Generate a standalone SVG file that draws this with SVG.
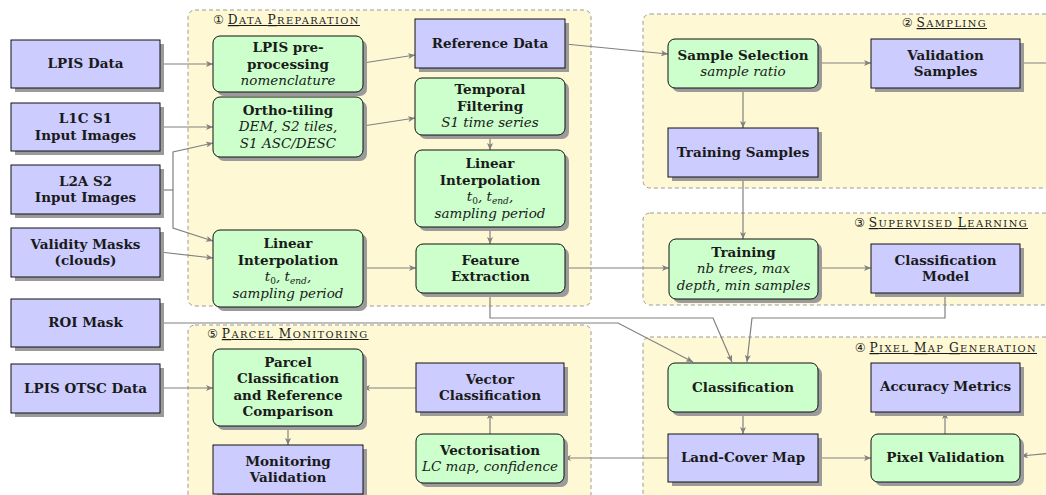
<svg xmlns="http://www.w3.org/2000/svg" width="1046" height="495" viewBox="0 0 1046 495">
<style>
.c{fill:#fef9d4;stroke:#9a9a9a;stroke-width:1;stroke-dasharray:4 3}
.b{fill:#ccccff;stroke:#111;stroke-width:1}
.g{fill:#ccffcc;stroke:#111;stroke-width:1}
.sh{fill:#9b9b9b}
.t{font-family:"DejaVu Serif","Liberation Serif",serif;font-size:13.5px;font-weight:bold;text-anchor:middle;fill:#1a1a1a}
.i{font-style:italic;font-weight:normal}
.s{font-size:9px;font-style:normal}
.se{font-size:9px}
.h{font-family:"DejaVu Serif","DejaVu Sans","Noto Sans CJK SC",serif;font-size:12.2px;fill:#1a1a1a}
.u{text-decoration:underline;letter-spacing:1.4px}
.k{font-size:9.9px}
.e{fill:none;stroke:#808080;stroke-width:1.2;marker-end:url(#a)}
.n{fill:none;stroke:#808080;stroke-width:1.2}
</style>
<defs>
<marker id="a" markerUnits="userSpaceOnUse" markerWidth="8" markerHeight="6" refX="7" refY="3" orient="auto">
<path d="M0,0 L7,3 L0,6 L1.8,3 z" fill="#808080"/>
</marker>
</defs>

<g id="containers">
<rect id="c1" class="c" x="188" y="10" width="403" height="296" rx="7"/>
<rect id="c2" class="c" x="643" y="14" width="410" height="174" rx="7"/>
<rect id="c3" class="c" x="643" y="213" width="410" height="92" rx="7"/>
<rect id="c4" class="c" x="643" y="337" width="410" height="170" rx="7"/>
<rect id="c5" class="c" x="188" y="325" width="403" height="180" rx="7"/>
<text class="h" x="213" y="24">① <tspan class="u">D<tspan class="k">ATA </tspan>P<tspan class="k">REPARATION</tspan></tspan></text>
<text class="h" x="987" y="27" text-anchor="end">② <tspan class="u">S<tspan class="k">AMPLING</tspan></tspan></text>
<text class="h" x="1028" y="227" text-anchor="end">③ <tspan class="u">S<tspan class="k">UPERVISED </tspan>L<tspan class="k">EARNING</tspan></tspan></text>
<text class="h" x="1037" y="352" text-anchor="end">④ <tspan class="u">P<tspan class="k">IXEL </tspan>M<tspan class="k">AP </tspan>G<tspan class="k">ENERATION</tspan></tspan></text>
<text class="h" x="207" y="338">⑤ <tspan class="u">P<tspan class="k">ARCEL </tspan>M<tspan class="k">ONITORING</tspan></tspan></text>
</g>

<g id="connectors">
<path class="e" d="M160,64 H213"/>
<path class="e" d="M160,127 H213"/>
<path class="n" d="M160,190 H173"/>
<path class="e" d="M173,190 V152 L213,143"/>
<path class="e" d="M173,190 V228 L213,241"/>
<path class="e" d="M160,252 L213,258"/>
<path class="e" d="M363,63 L415,55"/>
<path class="e" d="M363,126 L415,118"/>
<path class="e" d="M490,135 V150"/>
<path class="e" d="M490,227 V244"/>
<path class="e" d="M363,268 H416"/>
<path class="e" d="M565,44 L668,54"/>
<path class="e" d="M818,63 H871"/>
<path class="e" d="M743,88 V128"/>
<path class="e" d="M743,177 V239"/>
<path class="e" d="M565,268 H669"/>
<path class="e" d="M818,268 H871"/>
<path class="e" d="M945,293 V318 H752 L747,362"/>
<path class="e" d="M490,293 V318 H713 L732,362"/>
<path class="e" d="M160,323 H618 L693,362"/>
<path class="e" d="M743,412 V434"/>
<path class="e" d="M818,458 H871"/>
<path class="e" d="M945,434 V412"/>
<path class="e" d="M668,458 H564"/>
<path class="e" d="M490,434 V412"/>
<path class="e" d="M416,388 H363"/>
<path class="e" d="M160,388 H213"/>
<path class="e" d="M288,426 V445"/>
<path class="e" d="M1020,63 H1052 V453 L1021,456"/>
</g>

<g id="in_lpis"><rect class="sh" x="15" y="44" width="149" height="48"/><rect class="b" x="11" y="40" width="149" height="48"/><text class="t" x="85.5" y="68">LPIS Data</text></g>
<g id="in_l1c"><rect class="sh" x="15" y="107" width="149" height="48"/><rect class="b" x="11" y="103" width="149" height="48"/><text class="t" x="85.5" y="123">L1C S1</text><text class="t" x="85.5" y="139.5">Input Images</text></g>
<g id="in_l2a"><rect class="sh" x="15" y="169" width="149" height="49"/><rect class="b" x="11" y="165" width="149" height="49"/><text class="t" x="85.5" y="185.5">L2A S2</text><text class="t" x="85.5" y="202">Input Images</text></g>
<g id="in_mask"><rect class="sh" x="15" y="232" width="149" height="49"/><rect class="b" x="11" y="228" width="149" height="49"/><text class="t" x="85.5" y="248.5">Validity Masks</text><text class="t" x="85.5" y="265">(clouds)</text></g>
<g id="in_roi"><rect class="sh" x="15" y="303" width="149" height="48"/><rect class="b" x="11" y="299" width="149" height="48"/><text class="t" x="85.5" y="327">ROI Mask</text></g>
<g id="in_otsc"><rect class="sh" x="15" y="368" width="149" height="49"/><rect class="b" x="11" y="364" width="149" height="49"/><text class="t" x="85.5" y="392.5">LPIS OTSC Data</text></g>

<g id="lpis_pre"><rect class="sh" x="217" y="40" width="150" height="56" rx="7"/><rect class="g" x="213" y="36" width="150" height="56" rx="7"/><text class="t" x="288" y="52">LPIS pre-</text><text class="t" x="288" y="68.5">processing</text><text class="t i" x="288" y="85">nomenclature</text></g>
<g id="ortho"><rect class="sh" x="217" y="101" width="150" height="60" rx="7"/><rect class="g" x="213" y="97" width="150" height="60" rx="7"/><text class="t" x="288" y="114.5">Ortho-tiling</text><text class="t i" x="288" y="131">DEM, S2 tiles,</text><text class="t i" x="288" y="147.5">S1 ASC/DESC</text></g>
<g id="lin_left"><rect class="sh" x="217" y="234" width="150" height="77" rx="7"/><rect class="g" x="213" y="230" width="150" height="77" rx="7"/><text class="t" x="288" y="248">Linear</text><text class="t" x="288" y="264.5">Interpolation</text><text class="t i" x="288" y="281">t<tspan class="s" dy="3">0</tspan><tspan dy="-3">, t</tspan><tspan class="se" dy="3">end</tspan><tspan dy="-3">,</tspan></text><text class="t i" x="288" y="297.5">sampling period</text></g>
<g id="ref"><rect class="sh" x="419" y="23" width="150" height="49"/><rect class="b" x="415" y="19" width="150" height="49"/><text class="t" x="490" y="47.5">Reference Data</text></g>
<g id="temporal"><rect class="sh" x="419" y="82" width="150" height="57" rx="7"/><rect class="g" x="415" y="78" width="150" height="57" rx="7"/><text class="t" x="490" y="94">Temporal</text><text class="t" x="490" y="110.5">Filtering</text><text class="t i" x="490" y="127">S1 time series</text></g>
<g id="lin_mid"><rect class="sh" x="419" y="154" width="150" height="77" rx="7"/><rect class="g" x="415" y="150" width="150" height="77" rx="7"/><text class="t" x="490" y="168">Linear</text><text class="t" x="490" y="184.5">Interpolation</text><text class="t i" x="490" y="201">t<tspan class="s" dy="3">0</tspan><tspan dy="-3">, t</tspan><tspan class="se" dy="3">end</tspan><tspan dy="-3">,</tspan></text><text class="t i" x="490" y="217.5">sampling period</text></g>
<g id="feat"><rect class="sh" x="420" y="248" width="149" height="49" rx="7"/><rect class="g" x="416" y="244" width="149" height="49" rx="7"/><text class="t" x="490.5" y="264.5">Feature</text><text class="t" x="490.5" y="281">Extraction</text></g>

<g id="sample_sel"><rect class="sh" x="672" y="43" width="150" height="49" rx="7"/><rect class="g" x="668" y="39" width="150" height="49" rx="7"/><text class="t" x="743" y="59.5">Sample Selection</text><text class="t i" x="743" y="76">sample ratio</text></g>
<g id="val_samples"><rect class="sh" x="875" y="43" width="149" height="49"/><rect class="b" x="871" y="39" width="149" height="49"/><text class="t" x="945.5" y="59.5">Validation</text><text class="t" x="945.5" y="76">Samples</text></g>
<g id="train_samples"><rect class="sh" x="672" y="132" width="150" height="49"/><rect class="b" x="668" y="128" width="150" height="49"/><text class="t" x="743" y="156.5">Training Samples</text></g>

<g id="training"><rect class="sh" x="673" y="243" width="149" height="60" rx="7"/><rect class="g" x="669" y="239" width="149" height="60" rx="7"/><text class="t" x="743.5" y="256.5">Training</text><text class="t i" x="743.5" y="273">nb trees, max</text><text class="t i" x="743.5" y="289.5">depth, min samples</text></g>
<g id="class_model"><rect class="sh" x="875" y="248" width="149" height="49"/><rect class="b" x="871" y="244" width="149" height="49"/><text class="t" x="945.5" y="264.5">Classification</text><text class="t" x="945.5" y="281">Model</text></g>

<g id="classification"><rect class="sh" x="672" y="367" width="150" height="49" rx="7"/><rect class="g" x="668" y="363" width="150" height="49" rx="7"/><text class="t" x="743" y="391.5">Classification</text></g>
<g id="accuracy"><rect class="sh" x="875" y="367" width="149" height="49"/><rect class="b" x="871" y="363" width="149" height="49"/><text class="t" x="945.5" y="391">Accuracy Metrics</text></g>
<g id="lcmap"><rect class="sh" x="672" y="438" width="150" height="48"/><rect class="b" x="668" y="434" width="150" height="48"/><text class="t" x="743" y="462">Land-Cover Map</text></g>
<g id="pixval"><rect class="sh" x="875" y="438" width="149" height="48" rx="7"/><rect class="g" x="871" y="434" width="149" height="48" rx="7"/><text class="t" x="945.5" y="462">Pixel Validation</text></g>

<g id="parcel"><rect class="sh" x="217" y="353" width="150" height="77" rx="7"/><rect class="g" x="213" y="349" width="150" height="77" rx="7"/><text class="t" x="288" y="366.5">Parcel</text><text class="t" x="288" y="383">Classification</text><text class="t" x="288" y="399.5">and Reference</text><text class="t" x="288" y="416">Comparison</text></g>
<g id="monval"><rect class="sh" x="217" y="449" width="150" height="49"/><rect class="b" x="213" y="445" width="150" height="49"/><text class="t" x="288" y="465.5">Monitoring</text><text class="t" x="288" y="482">Validation</text></g>
<g id="vecclass"><rect class="sh" x="420" y="367" width="148" height="49"/><rect class="b" x="416" y="363" width="148" height="49"/><text class="t" x="490" y="383.5">Vector</text><text class="t" x="490" y="400">Classification</text></g>
<g id="vectorisation"><rect class="sh" x="420" y="438" width="148" height="49" rx="7"/><rect class="g" x="416" y="434" width="148" height="49" rx="7"/><text class="t" x="490" y="454.5">Vectorisation</text><text class="t i" x="490" y="471">LC map, confidence</text></g>
</svg>
